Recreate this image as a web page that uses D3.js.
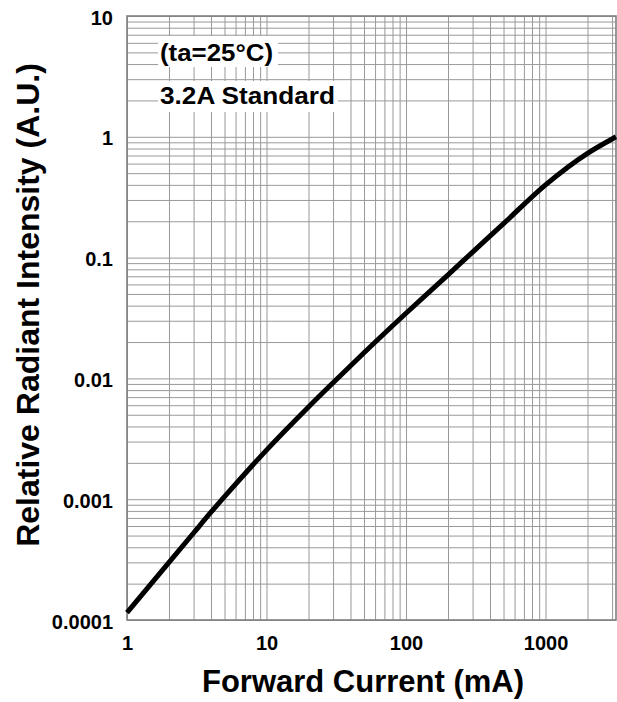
<!DOCTYPE html>
<html>
<head>
<meta charset="utf-8">
<script src="https://cdn.jsdelivr.net/npm/d3@7"></script>
<style>
  html, body { margin: 0; padding: 0; background: #fff; }
  svg { display: block; }
  text { font-family: "Liberation Sans", Arial, Helvetica, sans-serif; font-weight: bold; fill: #000; }
</style>
</head>
<body>
<svg id="chart" width="617" height="702"></svg>
<script>
// ---- data ----
const currentMA = [1, 2, 3, 4, 5, 10, 20, 30, 50, 100, 200, 300, 500, 1000, 2000, 3000, 3200];
const intensity = [1.15e-4, 3.0e-4, 5.25e-4, 7.8e-4, 1.05e-3, 2.55e-3, 5.8e-3, 9.2e-3, 0.0163, 0.0346, 0.072, 0.111, 0.191, 0.40, 0.73, 0.96, 1.0];
const xTickLabels = [1, 10, 100, 1000];
const yTickLabels = [0.0001, 0.001, 0.01, 0.1, 1, 10];
const xDomain = [1, 3200];
const yDomain = [0.0001, 10];
const annotations = ["(ta=25°C)", "3.2A Standard"];
const xTitle = "Forward Current (mA)";
const yTitle = "Relative Radiant Intensity (A.U.)";

// ---- layout ----
const pLeft = 127, pRight = 616, pTop = 16, pBottom = 620;
const svg = d3.select("#chart");
const x = d3.scaleLog().domain(xDomain).range([pLeft, pRight]);
const y = d3.scaleLog().domain(yDomain).range([pBottom, pTop]);

function gridValues(domain) {
  const vals = [];
  for (let k = Math.floor(Math.log10(domain[0])); k <= Math.ceil(Math.log10(domain[1])); k++) {
    for (let m = 1; m <= 9; m++) {
      const v = m * Math.pow(10, k);
      if (v >= domain[0] * 0.9999 && v <= domain[1] * 1.0001) vals.push(v);
    }
  }
  return vals;
}

// gridlines
const gx = svg.append("g").attr("transform", `translate(0,${pBottom})`)
  .call(d3.axisBottom(x).tickValues(gridValues(xDomain)).tickSize(-(pBottom - pTop)).tickFormat(""));
gx.select(".domain").remove();
gx.selectAll("line").attr("stroke", "#999").attr("stroke-width", 1);

const gy = svg.append("g").attr("transform", `translate(${pLeft},0)`)
  .call(d3.axisLeft(y).tickValues(gridValues(yDomain)).tickSize(-(pRight - pLeft)).tickFormat(""));
gy.select(".domain").remove();
gy.selectAll("line").attr("stroke", "#999").attr("stroke-width", 1);

// frame
svg.append("rect").attr("x", pLeft).attr("y", pTop)
  .attr("width", pRight - pLeft).attr("height", pBottom - pTop)
  .attr("fill", "none").attr("stroke", "#808080").attr("stroke-width", 1.6);

// tick labels
const ax = svg.append("g").attr("transform", `translate(0,${pBottom})`)
  .call(d3.axisBottom(x).tickValues(xTickLabels).tickSize(0).tickPadding(16).tickFormat(d3.format("d")));
ax.select(".domain").remove();
ax.selectAll("text").attr("font-size", 20).attr("font-family", "Liberation Sans, Arial, sans-serif").attr("font-weight", "bold").attr("fill", "#000");

const ay = svg.append("g").attr("transform", `translate(${pLeft},0)`)
  .call(d3.axisLeft(y).tickValues(yTickLabels).tickSize(0).tickPadding(14).tickFormat(d => String(d)));
ay.select(".domain").remove();
ay.selectAll("text").attr("font-size", 20).attr("font-family", "Liberation Sans, Arial, sans-serif").attr("font-weight", "bold").attr("fill", "#000").attr("dy", "0.4em");

// curve
const pts = currentMA.map((c, i) => [c, intensity[i]]);
svg.append("path").datum(pts)
  .attr("fill", "none").attr("stroke", "#000").attr("stroke-width", 5)
  .attr("stroke-linejoin", "round")
  .attr("d", d3.line().x(d => x(d[0])).y(d => y(d[1])).curve(d3.curveMonotoneX));

// annotations with white backgrounds
const ann = [
  { t: annotations[0], bx: 158, by: 36, bw: 120, bh: 31, tx: 160, ty: 61, len: 113 },
  { t: annotations[1], bx: 158, by: 81, bw: 180, bh: 31, tx: 160, ty: 104, len: 175 }
];
ann.forEach(a => {
  svg.append("rect").attr("x", a.bx).attr("y", a.by).attr("width", a.bw).attr("height", a.bh).attr("fill", "#fff");
  svg.append("text").attr("x", a.tx).attr("y", a.ty).attr("font-size", 24)
    .attr("textLength", a.len).attr("lengthAdjust", "spacingAndGlyphs").text(a.t);
});

// axis titles
svg.append("text").attr("x", 363).attr("y", 692).attr("text-anchor", "middle")
  .attr("font-size", 31).text(xTitle);
svg.append("text").attr("transform", "translate(39,305) rotate(-90)").attr("text-anchor", "middle")
  .attr("font-size", 32).text(yTitle);
</script>
</body>
</html>
